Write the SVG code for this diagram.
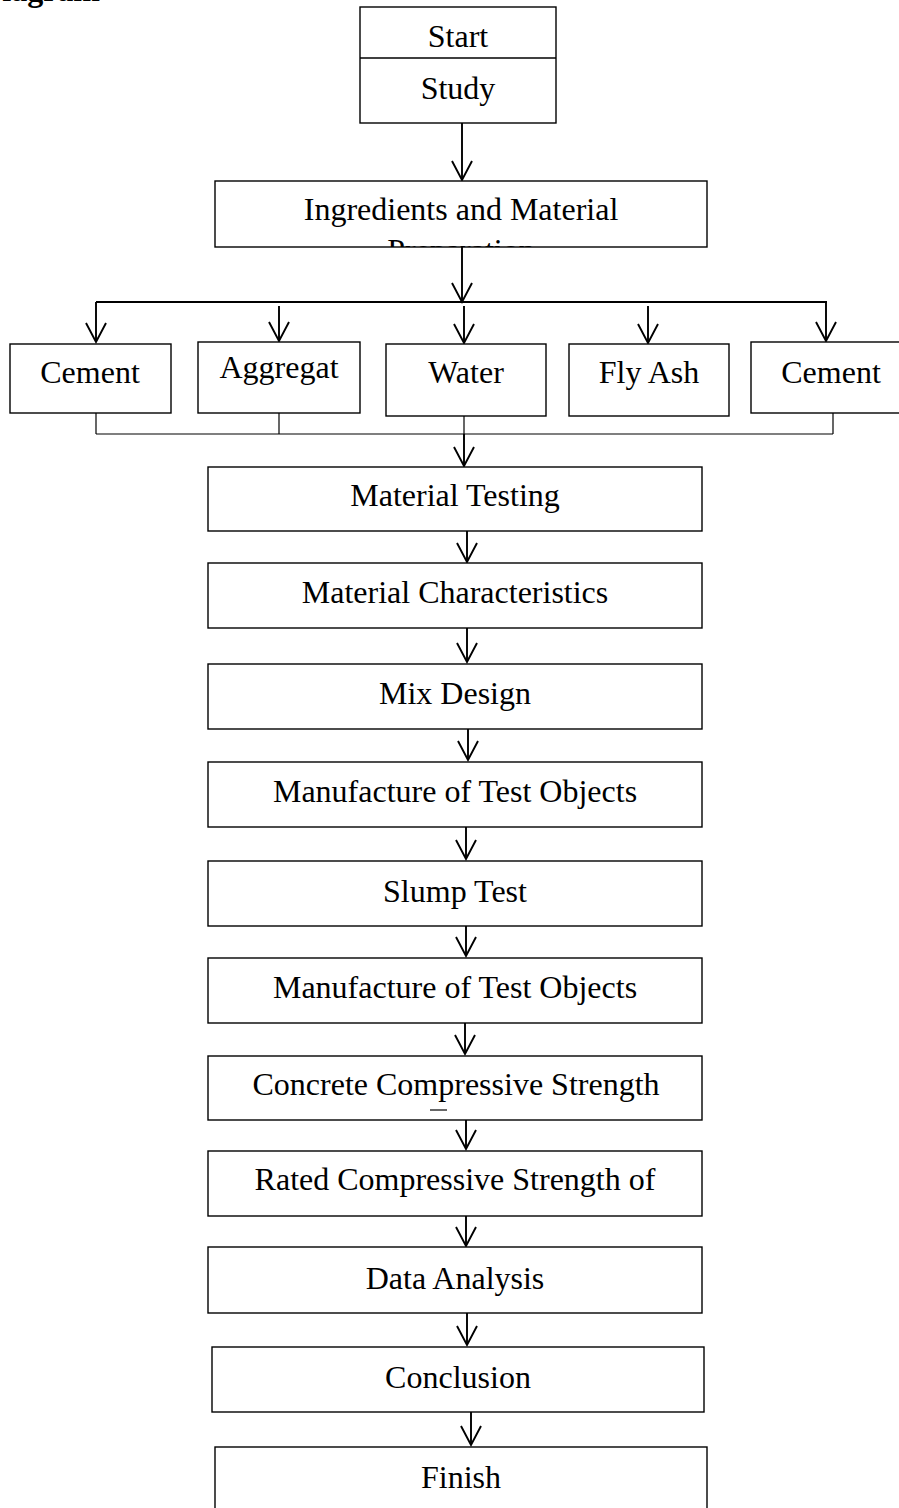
<svg xmlns="http://www.w3.org/2000/svg" width="899" height="1508" viewBox="0 0 899 1508">
<style>
.box{fill:#fff;stroke:#000;stroke-width:1.4}
.t{font-family:"Liberation Serif","Times New Roman",serif;font-size:32px;fill:#000;text-anchor:middle}
.title{font-family:"Liberation Serif","Times New Roman",serif;font-size:32px;font-weight:bold;fill:#000;text-anchor:end}
.arr{fill:none;stroke:#000;stroke-width:1.9;marker-end:url(#ah)}
.ln{fill:none;stroke:#000;stroke-width:1.9}
.thin{fill:none;stroke:#000;stroke-width:1.2}
</style>
<defs>
<marker id="ah" markerUnits="userSpaceOnUse" viewBox="-21 -12 23 24" refX="0" refY="0" markerWidth="23" markerHeight="24" orient="auto" overflow="visible">
<path d="M-19,-10 L0,0 L-19,10" fill="none" stroke="#000" stroke-width="1.9"/>
</marker>
<clipPath id="clipIng"><rect x="215" y="181" width="492" height="66"/></clipPath>
</defs>
<rect width="899" height="1508" fill="#fff"/>
<text class="title" x="100" y="1">Diagram</text>

<g id="connectors">
<line class="arr" x1="462" y1="123" x2="462" y2="180"/>
<line class="arr" x1="462" y1="247" x2="462" y2="302"/>
<line class="ln" x1="96" y1="302" x2="827" y2="302"/>
<line class="arr" x1="96" y1="302" x2="96" y2="342"/>
<line class="arr" x1="279" y1="306" x2="279" y2="341"/>
<line class="arr" x1="464" y1="306" x2="464" y2="343"/>
<line class="arr" x1="648" y1="306" x2="648" y2="343"/>
<line class="arr" x1="826" y1="302" x2="826" y2="341"/>
<line class="thin" x1="96" y1="434" x2="833" y2="434"/>
<line class="thin" x1="96" y1="413" x2="96" y2="434"/>
<line class="thin" x1="279" y1="413" x2="279" y2="434"/>
<line class="thin" x1="833" y1="413" x2="833" y2="434"/>
<line class="thin" x1="464" y1="416" x2="464" y2="440"/>
<line class="arr" x1="464" y1="434" x2="464" y2="466"/>
<line class="arr" x1="467" y1="531" x2="467" y2="562"/>
<line class="arr" x1="467" y1="628" x2="467" y2="662"/>
<line class="arr" x1="468" y1="729" x2="468" y2="760"/>
<line class="arr" x1="466" y1="827" x2="466" y2="859"/>
<line class="arr" x1="466" y1="926" x2="466" y2="956"/>
<line class="arr" x1="465" y1="1023" x2="465" y2="1054"/>
<line class="arr" x1="466" y1="1120" x2="466" y2="1149"/>
<line class="arr" x1="466" y1="1216" x2="466" y2="1246"/>
<line class="arr" x1="467" y1="1313" x2="467" y2="1345"/>
<line class="arr" x1="471" y1="1412" x2="471" y2="1445"/>
</g>

<g id="start">
<rect class="box" x="360" y="7" width="196" height="116"/>
<line class="box" x1="360" y1="58" x2="556" y2="58"/>
<text class="t" x="458" y="47">Start</text>
<text class="t" x="458" y="99">Study</text>
</g>

<g id="ingredients">
<rect class="box" x="215" y="181" width="492" height="66"/>
<text class="t" x="461" y="220">Ingredients and Material</text>
<text class="t" x="461" y="261" clip-path="url(#clipIng)">Preparation</text>
</g>

<g id="cement1">
<rect class="box" x="10" y="344" width="161" height="69"/>
<text class="t" x="90" y="383">Cement</text>
</g>
<g id="aggregat">
<rect class="box" x="198" y="342" width="162" height="71"/>
<text class="t" x="279" y="378">Aggregat</text>
</g>
<g id="water">
<rect class="box" x="386" y="344" width="160" height="72"/>
<text class="t" x="466" y="383">Water</text>
</g>
<g id="flyash">
<rect class="box" x="569" y="344" width="160" height="72"/>
<text class="t" x="649" y="383">Fly Ash</text>
</g>
<g id="cement2">
<rect class="box" x="751" y="342" width="160" height="71"/>
<text class="t" x="831" y="383">Cement</text>
</g>

<g id="material-testing">
<rect class="box" x="208" y="467" width="494" height="64"/>
<text class="t" x="455" y="506">Material Testing</text>
</g>
<g id="material-characteristics">
<rect class="box" x="208" y="563" width="494" height="65"/>
<text class="t" x="455" y="603">Material Characteristics</text>
</g>
<g id="mix-design">
<rect class="box" x="208" y="664" width="494" height="65"/>
<text class="t" x="455" y="704">Mix Design</text>
</g>
<g id="manufacture1">
<rect class="box" x="208" y="762" width="494" height="65"/>
<text class="t" x="455" y="802">Manufacture of Test Objects</text>
</g>
<g id="slump-test">
<rect class="box" x="208" y="861" width="494" height="65"/>
<text class="t" x="455" y="902">Slump Test</text>
</g>
<g id="manufacture2">
<rect class="box" x="208" y="958" width="494" height="65"/>
<text class="t" x="455" y="998">Manufacture of Test Objects</text>
</g>
<g id="concrete-strength">
<rect class="box" x="208" y="1056" width="494" height="64"/>
<text class="t" x="456" y="1095">Concrete Compressive Strength</text>
<line class="thin" x1="430" y1="1110" x2="447" y2="1110"/>
</g>
<g id="rated-strength">
<rect class="box" x="208" y="1151" width="494" height="65"/>
<text class="t" x="455" y="1190">Rated Compressive Strength of</text>
</g>
<g id="data-analysis">
<rect class="box" x="208" y="1247" width="494" height="66"/>
<text class="t" x="455" y="1289">Data Analysis</text>
</g>
<g id="conclusion">
<rect class="box" x="212" y="1347" width="492" height="65"/>
<text class="t" x="458" y="1388">Conclusion</text>
</g>
<g id="finish">
<rect class="box" x="215" y="1447" width="492" height="80"/>
<text class="t" x="461" y="1488">Finish</text>
</g>
</svg>
